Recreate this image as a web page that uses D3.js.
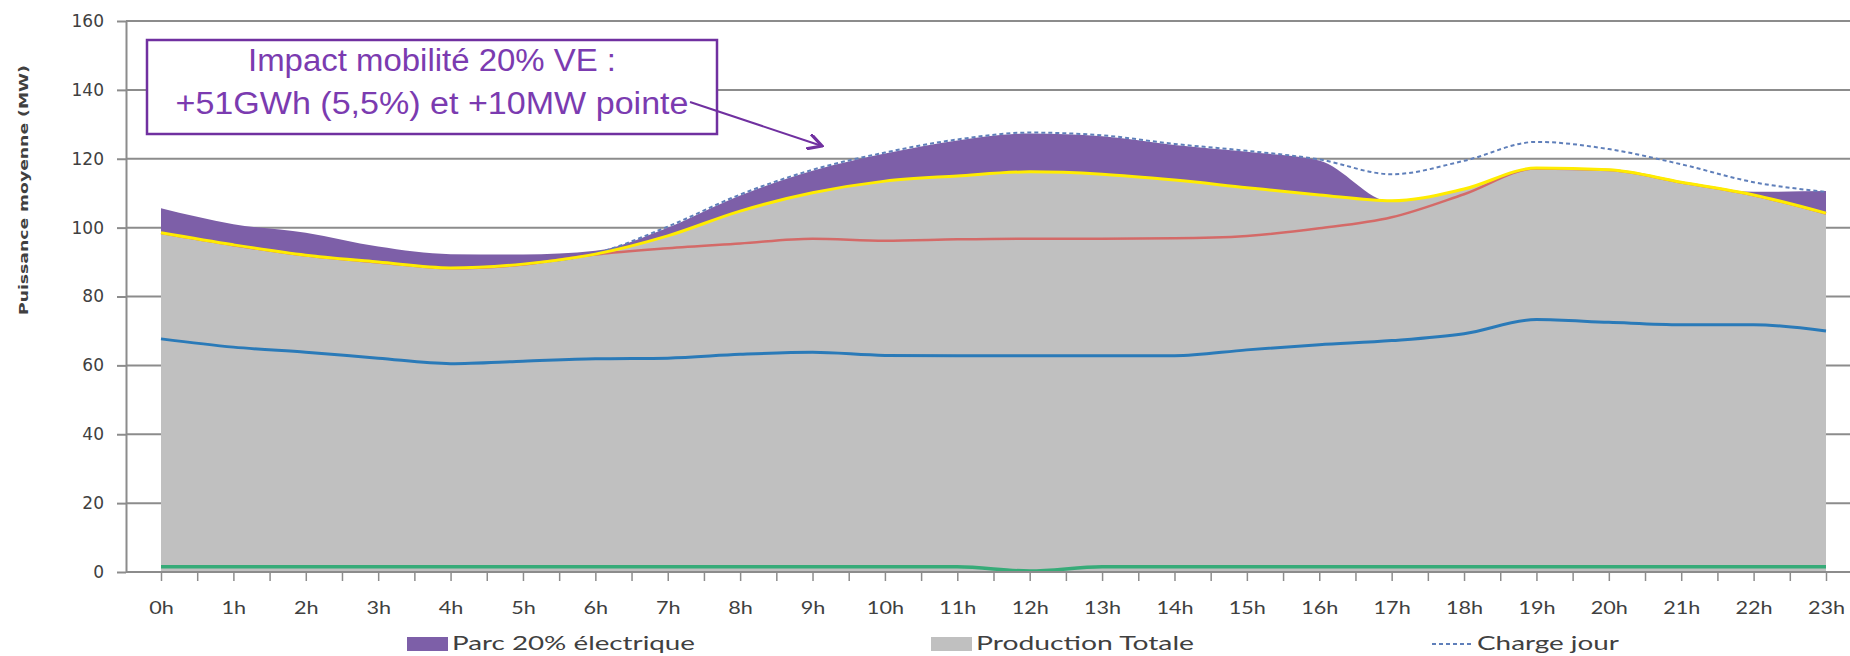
<!DOCTYPE html>
<html><head><meta charset="utf-8">
<script src="https://cdn.jsdelivr.net/npm/d3@7"></script>
<style>body{margin:0;background:#fff;overflow:hidden}svg{display:block}</style>
</head><body>
<script>
// ---- data (MW, hourly) ----
const hours = ["0h","1h","2h","3h","4h","5h","6h","7h","8h","9h","10h","11h","12h","13h","14h","15h","16h","17h","18h","19h","20h","21h","22h","23h"];
const parc20 = [105.6,101,98.5,94.5,92.3,92.2,93.3,100,109.3,116.5,121.5,125.3,127.3,126.5,124,122,119.5,107.5,109.5,115.5,115.5,112,110.4,110.6];
const productionTotale = [98.5,95,92,90,88.3,89.4,92.3,97.6,104.8,110.1,113.5,115,116.2,115.5,113.8,111.6,109.5,107.8,111.2,117.3,116.8,113.2,109.5,104.2];
const chargeJour = [98.5,95,92,90,88.3,89.4,92.5,100.3,109.6,116.8,121.8,125.6,127.6,126.8,124.3,122.3,119.8,115.5,119.4,124.9,122.8,118.4,113.2,110.4];
const serieRouge = [98.4,94.9,91.9,89.9,88.2,89.3,92.2,94,95.4,96.8,96.2,96.6,96.8,96.8,96.9,97.6,99.8,103,109.7,117.2,116.7,113.1,109.4,104.1];
const serieBleue = [67.7,65.3,63.8,62.1,60.5,61.2,61.9,62.1,63.2,63.8,62.9,62.8,62.8,62.8,62.8,64.5,66,67.2,69.2,73.3,72.5,71.8,71.8,70];
const serieVerte = [1.5,1.5,1.5,1.5,1.5,1.5,1.5,1.5,1.5,1.5,1.5,1.5,0.3,1.5,1.5,1.5,1.5,1.5,1.5,1.5,1.5,1.5,1.5,1.5];
const yTicks = [0,20,40,60,80,100,120,140,160];
const legendLabels = ["Parc 20% électrique","Production Totale","Charge jour"];
const annotationLines = ["Impact mobilité 20% VE :","+51GWh (5,5%) et +10MW pointe"];
const yTitle = "Puissance moyenne (MW)";

// ---- layout ----
const W = 1850, H = 656;
const svg = d3.select("body").append("svg").attr("width", W).attr("height", H);
const x = d3.scaleLinear().domain([0, hours.length - 1]).range([161, 1826]);
const y = d3.scaleLinear().domain([0, 160]).range([572, 21]);
const gridColor = "#8c8c8c";
const purple = "#7d5fa8", gray = "#c0c0c0", dashColor = "#5f7fba";

// gridlines
svg.append("g").selectAll("line").data(yTicks.filter(t => t > 0)).join("line")
  .attr("x1", 126).attr("x2", W).attr("y1", d => y(d)).attr("y2", d => y(d))
  .attr("stroke", gridColor).attr("stroke-width", 2);

const area = d3.area().x((d, i) => x(i)).y0(y(0)).y1(d => y(d)).curve(d3.curveMonotoneX);
const line = d3.line().x((d, i) => x(i)).y(d => y(d)).curve(d3.curveMonotoneX);

svg.append("path").datum(parc20).attr("d", area).attr("fill", purple);
svg.append("path").datum(productionTotale).attr("d", area).attr("fill", gray);
svg.append("path").datum(chargeJour).attr("d", line).attr("fill", "none")
  .attr("stroke", dashColor).attr("stroke-width", 2).attr("stroke-dasharray", "4,3");
svg.append("path").datum(serieRouge).attr("d", line).attr("fill", "none")
  .attr("stroke", "#d46a68").attr("stroke-width", 2.5);
svg.append("path").datum(productionTotale).attr("d", line).attr("fill", "none")
  .attr("stroke", "#ffec00").attr("stroke-width", 3);
svg.append("path").datum(serieBleue).attr("d", line).attr("fill", "none")
  .attr("stroke", "#2a7ab8").attr("stroke-width", 3);
svg.append("path").datum(serieVerte).attr("d", line).attr("fill", "none")
  .attr("stroke", "#36ab78").attr("stroke-width", 3.5);

// y axis
const yAxis = svg.append("g").attr("transform", "translate(126,0)")
  .call(d3.axisLeft(y).tickValues(yTicks).tickSize(9).tickSizeOuter(0).tickPadding(13));
yAxis.select(".domain").attr("stroke", gridColor).attr("stroke-width", 2);
yAxis.selectAll(".tick line").attr("stroke", gridColor).attr("stroke-width", 2);
yAxis.selectAll(".tick text").attr("fill", "#404040")
  .style("font-family", "'DejaVu Sans', Verdana, sans-serif").style("font-size", "17px");

// x axis
svg.append("line").attr("x1", 126).attr("x2", W).attr("y1", y(0)).attr("y2", y(0))
  .attr("stroke", gridColor).attr("stroke-width", 2);
const halfTicks = d3.range(0, hours.length - 0.99, 0.5);
const xAxis = svg.append("g").attr("transform", `translate(0,${y(0)})`)
  .call(d3.axisBottom(x).tickValues(halfTicks).tickSize(9).tickSizeOuter(0)
    .tickFormat(d => Number.isInteger(d) ? hours[d] : ""));
xAxis.select(".domain").remove();
xAxis.selectAll(".tick line").attr("stroke", gridColor).attr("stroke-width", 1.5);
xAxis.selectAll(".tick text").attr("fill", "#404040").attr("y", 0).attr("dy", 0)
  .style("font-family", "Lato, 'Open Sans', sans-serif").style("font-size", "18px")
  .attr("transform", "translate(0,42) scale(1.2,1)");

// y title
svg.append("text").attr("transform", "translate(28,190) rotate(-90)")
  .attr("text-anchor", "middle").attr("fill", "#404040")
  .style("font-family", "'DejaVu Sans', sans-serif").style("font-size", "12px").style("font-weight", "bold")
  .attr("textLength", 250).attr("lengthAdjust", "spacingAndGlyphs").text(yTitle);

// legend
const legX = [407, 931, 1432];
const legTextW = [243, 218, 142];
const leg = svg.append("g");
leg.append("rect").attr("x", legX[0]).attr("y", 637).attr("width", 41).attr("height", 14).attr("fill", purple);
leg.append("rect").attr("x", legX[1]).attr("y", 637).attr("width", 41).attr("height", 14).attr("fill", gray);
leg.append("line").attr("x1", legX[2]).attr("x2", legX[2] + 42).attr("y1", 644).attr("y2", 644)
  .attr("stroke", dashColor).attr("stroke-width", 2).attr("stroke-dasharray", "4,3");
leg.selectAll("text").data(legendLabels).join("text")
  .attr("x", (d, i) => legX[i] + 45).attr("y", 650)
  .attr("textLength", (d, i) => legTextW[i]).attr("lengthAdjust", "spacingAndGlyphs")
  .attr("fill", "#404040").style("font-family", "Lato, 'Open Sans', sans-serif").style("font-size", "20px")
  .text(d => d);

// annotation
const ann = svg.append("g");
ann.append("rect").attr("x", 147).attr("y", 40).attr("width", 570).attr("height", 94)
  .attr("fill", "#fff").attr("stroke", "#7030a0").attr("stroke-width", 2.5);
ann.selectAll("text").data(annotationLines).join("text")
  .attr("x", 432).attr("y", (d, i) => i === 0 ? 71 : 114)
  .attr("text-anchor", "middle").attr("fill", "#7b3bb0")
  .attr("textLength", (d, i) => i === 0 ? 368 : 513).attr("lengthAdjust", "spacingAndGlyphs")
  .style("font-family", "'Liberation Sans Narrow', 'Arial Narrow', 'Liberation Sans', sans-serif")
  .style("font-size", "31px").text(d => d);
svg.append("defs").append("marker").attr("id", "arr").attr("viewBox", "0 0 10 10")
  .attr("refX", 9).attr("refY", 5).attr("markerWidth", 16).attr("markerHeight", 16)
  .attr("markerUnits", "userSpaceOnUse").attr("orient", "auto")
  .append("path").attr("d", "M0,0 L9,5 L0,10").attr("fill", "none").attr("stroke", "#7030a0").attr("stroke-width", 2);
ann.append("line").attr("x1", 690).attr("y1", 102).attr("x2", 822).attr("y2", 146)
  .attr("stroke", "#7030a0").attr("stroke-width", 2).attr("marker-end", "url(#arr)");
</script>
</body></html>
